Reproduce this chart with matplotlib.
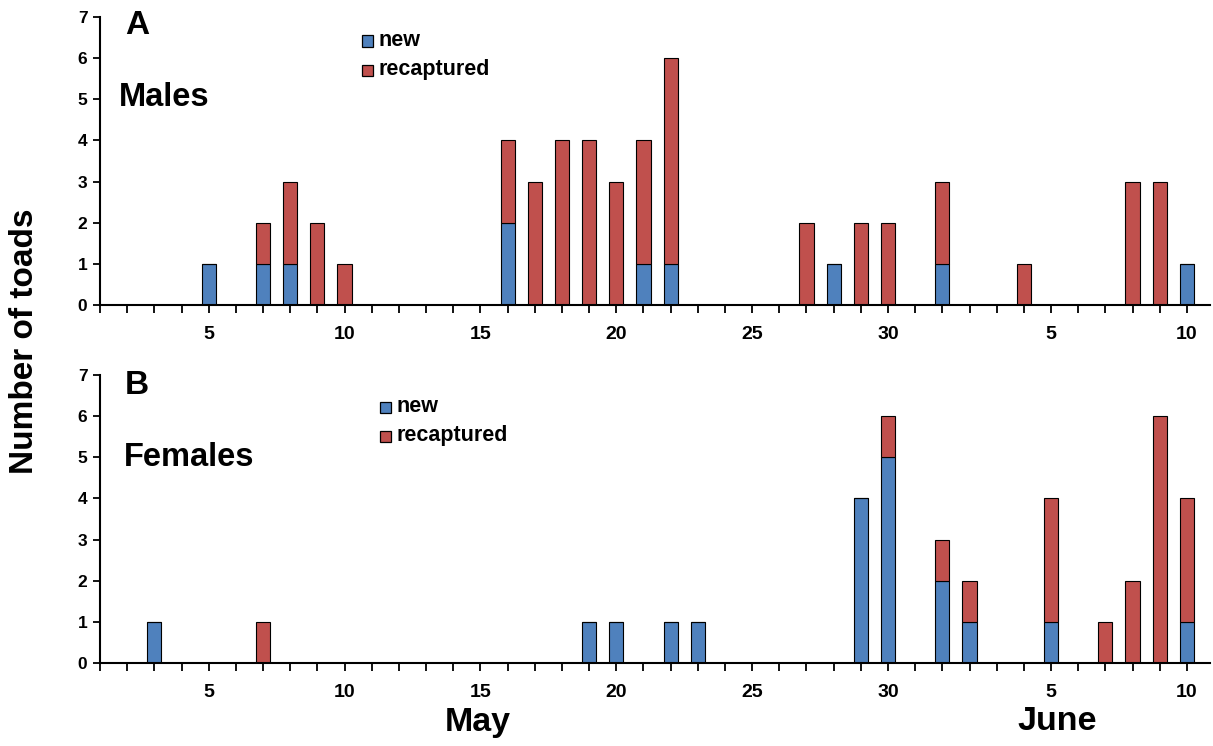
import matplotlib
matplotlib.use("Agg")
import matplotlib.pyplot as plt
from matplotlib.patches import Rectangle

plt.rcParams["font.family"] = ["Liberation Sans", "DejaVu Sans"]
plt.rcParams["font.weight"] = "bold"

# day index: 1 = May 1 ... 31 = May 31, 32 = June 1 ... 41 = June 10
male_days  = [5, 7, 8, 9, 10, 16, 17, 18, 19, 20, 21, 22, 27, 28, 29, 30, 32, 35, 39, 40, 41]
male_new   = [1, 1, 1, 0, 0,  2,  0,  0,  0,  0,  1,  1,  0,  1,  0,  0,  1,  0,  0,  0,  1]
male_recap = [0, 1, 2, 2, 1,  2,  3,  4,  4,  3,  3,  5,  2,  0,  2,  2,  2,  1,  3,  3,  0]

female_days  = [3, 7, 19, 20, 22, 23, 29, 30, 32, 33, 36, 38, 39, 40, 41]
female_new   = [1, 0, 1,  1,  1,  1,  4,  5,  2,  1,  1,  0,  0,  0,  1]
female_recap = [0, 1, 0,  0,  0,  0,  0,  1,  1,  1,  3,  1,  2,  6,  3]

tick_days   = [5, 10, 15, 20, 25, 30, 36, 41]
tick_labels = ["5", "10", "15", "20", "25", "30", "5", "10"]

BLUE = "#4F81BD"
RED = "#C0504D"
W, H = 1213, 746

fig = plt.figure(figsize=(W / 100, H / 100), dpi=100)


def px(x, y):
    return x / W, 1 - y / H


def panel(top, days, new, recap):
    ax = fig.add_axes([100 / W, 1 - (top + 288) / H, 1110 / W, 288 / H])
    ax.bar(days, new, width=0.52, color=BLUE, edgecolor="black", linewidth=0.8)
    ax.bar(days, recap, width=0.52, bottom=new, color=RED, edgecolor="black", linewidth=0.8)
    ax.set_xlim(1, 41.85)
    ax.set_ylim(0, 7)
    ax.spines["top"].set_visible(False)
    ax.spines["right"].set_visible(False)
    for s in ("left", "bottom"):
        ax.spines[s].set_linewidth(1.5)
    ax.set_xticks(range(1, 42))
    ax.set_xticklabels([tick_labels[tick_days.index(d)] if d in tick_days else "" for d in range(1, 42)],
                       fontsize=14, fontweight="bold")
    ax.set_yticks(range(8))
    ax.set_yticklabels([str(v) for v in range(8)], fontsize=12.5, fontweight="bold")
    ax.tick_params(axis="x", direction="out", length=6, width=1.3, pad=9)
    ax.tick_params(axis="y", direction="out", length=5, width=1.3, pad=4)
    return ax


panel(17, male_days, male_new, male_recap)
panel(375, female_days, female_new, female_recap)


def legend(x, y_new, y_rec):
    for yy, col, lab in ((y_new, BLUE, "new"), (y_rec, RED, "recaptured")):
        fx, fy = px(x, yy + 5.5)
        fig.patches.append(Rectangle((fx, fy), 11 / W, 11 / H, transform=fig.transFigure,
                                     facecolor=col, edgecolor="black", linewidth=0.9))
        tx, ty = px(x + 17, yy)
        fig.text(tx, ty, lab, fontsize=15.5, fontweight="bold", va="center", ha="left")


legend(362, 41, 70)
legend(380, 407, 436)

fig.text(*px(137, 26), "A", fontsize=24, fontweight="bold", ha="center", va="center")
fig.text(*px(119, 98), "Males", fontsize=23.5, fontweight="bold", ha="left", va="center")
fig.text(*px(137, 385), "B", fontsize=24, fontweight="bold", ha="center", va="center")
fig.text(*px(124, 458), "Females", fontsize=23.5, fontweight="bold", ha="left", va="center")
fig.text(*px(25, 341), "Number of toads", fontsize=24, fontweight="bold", rotation=90,
         ha="center", va="center")
fig.text(*px(478, 722), "May", fontsize=24.5, fontweight="bold", ha="center", va="center")
fig.text(*px(1057, 722), "June", fontsize=24.5, fontweight="bold", ha="center", va="center")

fig.savefig("out.png", dpi=100)
